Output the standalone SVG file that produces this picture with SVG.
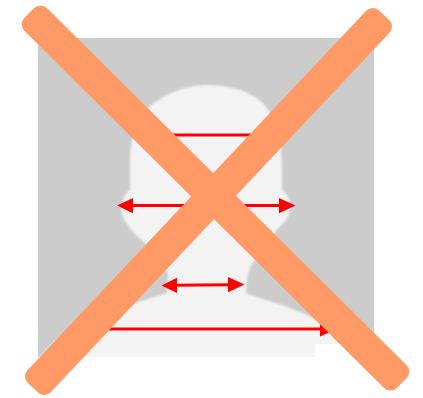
<svg xmlns="http://www.w3.org/2000/svg" width="423" height="398" viewBox="0 0 423 398">
<defs>
<style>
.bar{fill:#ff9966}
.r{stroke:#ff0000;stroke-width:3;fill:none}
.h{fill:#ff0000}
</style>
<filter id="b" x="-5%" y="-5%" width="110%" height="110%"><feGaussianBlur stdDeviation="1"/></filter>
<clipPath id="c"><path d="M38 38H374V344H315V357H38Z"/></clipPath>
</defs>
<g id="photo">
<path fill="#cccccc" d="M38 38H374V344H315V357H38Z"/>
<g clip-path="url(#c)">
<path fill="#f3f3f3" filter="url(#b)" d="M207 85C228 85 245 90 258 99C272 110 280 128 281 147C282 160 282 175 282 190C288 194 291 202 290 209C289 218 284 224 278 228C272 238 263 250 255 260C250 266 248 272 247 282L246 293C255 296 265 300 273 302C283 305 292 309 300 312C308 315 315 319 322 324L345 345L362 375H20L39 358L53 343L70 330C95 316 110 312 122 307C137 302 152 298 167 293L168 275C166 262 155 250 147 245C140 238 131 232 128 225C122 218 120 210 122 205C123 197 126 193 130 190C130 175 130 165 130 155C131 135 137 118 148 108C162 95 185 85 207 85Z"/>
</g>
</g>
<g id="connectors">
<line class="r" x1="170" y1="135" x2="255" y2="135"/>
<line class="r" x1="128" y1="205.6" x2="285" y2="205.6"/>
<path class="h" d="M117 205.6L133 198V213.2Z"/>
<path class="h" d="M295.500 205.600L279 198V213.200Z"/>
<line class="r" x1="172" y1="285.300" x2="234" y2="284.700"/>
<path class="h" d="M161.500 285.400L177 277.800V293Z"/>
<path class="h" d="M244.500 284.600L228 277V292.200Z"/>
<line class="r" x1="105" y1="329" x2="325" y2="329"/>
<path class="h" d="M337 328.800L320 321V336.500Z"/>
</g>
<g id="cross">
<rect class="bar" x="-262.500" y="-16" width="525" height="32" rx="9" transform="translate(215.500 198) rotate(44.8)"/>
<rect class="bar" x="-256" y="-16" width="512" height="32" rx="9" transform="translate(208.500 201.500) rotate(133.300)"/>
</g>
</svg>
